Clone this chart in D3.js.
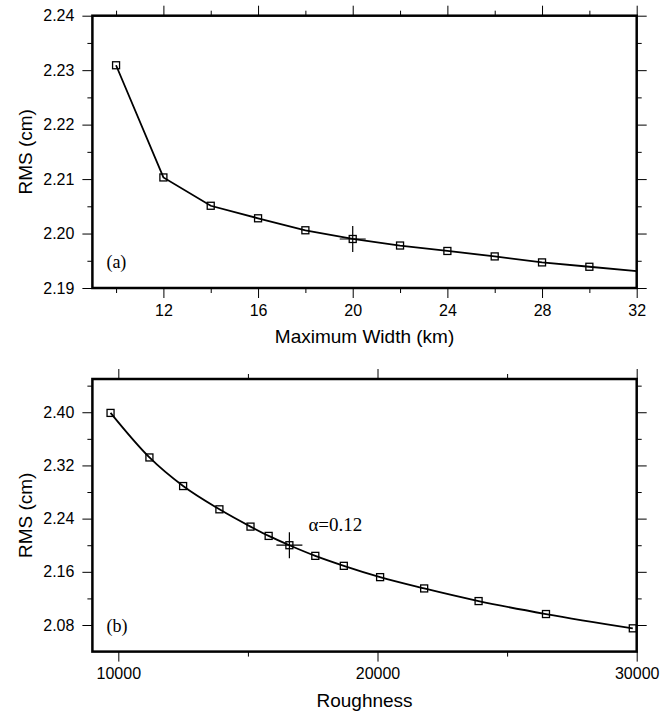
<!DOCTYPE html>
<html>
<head>
<meta charset="utf-8">
<script src="https://cdn.jsdelivr.net/npm/d3@7"></script>
<style>
  body { margin: 0; background: #fff; }
  svg { display: block; }
  .tick text { font-family: "Liberation Sans", Arial, sans-serif; font-size: 16px; fill: #000; }
  .tick line { stroke: #000; stroke-width: 1; }
</style>
</head>
<body>
<div id="chart"></div>
<script>
// panel (a): RMS vs maximum width; the line runs on to 32 km without a symbol there
const widthKm = [10, 12, 14, 16, 18, 20, 22, 24, 26, 28, 30, 32];
const rmsWidth = [2.2309, 2.2103, 2.2051, 2.2028, 2.2006, 2.1990, 2.1978, 2.1968, 2.1958, 2.1947, 2.1939, 2.1931];
const pickWidth = 20;

// panel (b): RMS vs roughness
const roughness = [9700, 11200, 12500, 13900, 15100, 15800, 16600, 17600, 18700, 20100, 21800, 23900, 26500, 29850];
const rmsRough = [2.399, 2.332, 2.289, 2.254, 2.228, 2.214, 2.200, 2.184, 2.169, 2.152, 2.135, 2.116, 2.0965, 2.075];
const pickRough = 16600;
const pickLabel = "α=0.12";

const ticksWidth = [12, 16, 20, 24, 28, 32];
const minorWidth = [10, 14, 18, 22, 26, 30];
const ticksRmsA = [2.19, 2.20, 2.21, 2.22, 2.23, 2.24];
const minorRmsA = [2.195, 2.205, 2.215, 2.225, 2.235];
const ticksRough = [10000, 20000, 30000];
const minorRough = [15000, 25000];
const ticksRmsB = [2.08, 2.16, 2.24, 2.32, 2.40];
const minorRmsB = [2.12, 2.20, 2.28, 2.36, 2.44];

const W = 672, H = 713;
const svg = d3.select("#chart").append("svg")
    .attr("width", W)
    .attr("height", H);

function panel(opts) {
    const x = d3.scaleLinear().domain(opts.xDomain).range([opts.left, opts.right]);
    const y = d3.scaleLinear().domain(opts.yDomain).range([opts.bottom, opts.top]);
    const g = svg.append("g");

    // major + minor ticks on all four sides, pointing outward
    const sides = [
        [d3.axisBottom, x, opts.xTicks, opts.xMinor, "translate(0," + opts.bottom + ")", opts.xFormat, 6.5],
        [d3.axisTop, x, opts.xTicks, opts.xMinor, "translate(0," + opts.top + ")", null, 6],
        [d3.axisLeft, y, opts.yTicks, opts.yMinor, "translate(" + opts.left + ",0)", d3.format(".2f"), 8],
        [d3.axisRight, y, opts.yTicks, opts.yMinor, "translate(" + opts.right + ",0)", null, 6]
    ];
    sides.forEach(([axis, sc, major, minor, tr, fmt, pad]) => {
        g.append("g").attr("transform", tr)
            .call(axis(sc).tickValues(minor).tickSize(5).tickFormat("").tickSizeOuter(0))
            .call(a => a.select(".domain").remove());
        g.append("g").attr("transform", tr)
            .call(axis(sc).tickValues(major).tickSize(10).tickPadding(pad)
                .tickFormat(fmt ? fmt : "").tickSizeOuter(0))
            .call(a => a.select(".domain").remove())
            .attr("font-family", null).attr("font-size", null);
    });

    g.append("rect")
        .attr("x", opts.left).attr("y", opts.top)
        .attr("width", opts.right - opts.left)
        .attr("height", opts.bottom - opts.top)
        .attr("fill", "none")
        .attr("stroke", "#000")
        .attr("stroke-width", 2.5);

    const pts = opts.xs.map((v, i) => ({ x: v, y: opts.ys[i] }));
    const line = d3.line().x(d => x(d.x)).y(d => y(d.y)).curve(opts.curve);
    g.append("path")
        .datum(pts)
        .attr("d", line)
        .attr("fill", "none")
        .attr("stroke", "#000")
        .attr("stroke-width", 1.8);

    const marked = opts.skipLast ? pts.slice(0, -1) : pts;
    g.selectAll(".sym")
        .data(marked)
        .enter()
        .append("rect")
        .attr("class", "sym")
        .attr("x", d => x(d.x) - 3.5)
        .attr("y", d => y(d.y) - 3.5)
        .attr("width", 7)
        .attr("height", 7)
        .attr("fill", "none")
        .attr("stroke", "#000")
        .attr("stroke-width", 1.3);

    // cross on the chosen value
    const pick = pts.find(d => d.x == opts.pick);
    const cx = x(pick.x), cy = y(pick.y);
    g.append("path")
        .attr("d", "M" + (cx - 13) + "," + cy + "H" + (cx + 13) + "M" + cx + "," + (cy - 13) + "V" + (cy + 13))
        .attr("stroke", "#000")
        .attr("stroke-width", 1.2);

    g.append("text")
        .attr("x", (opts.left + opts.right) / 2)
        .attr("y", opts.bottom + 55)
        .attr("text-anchor", "middle")
        .style("font-family", "Liberation Sans, Arial, sans-serif")
        .style("font-size", "19px")
        .text(opts.xTitle);

    g.append("text")
        .attr("transform", "translate(32," + (opts.top + opts.bottom) / 2 + ") rotate(-90)")
        .attr("text-anchor", "middle")
        .style("font-family", "Liberation Sans, Arial, sans-serif")
        .style("font-size", "19px")
        .text("RMS (cm)");

    g.append("text")
        .attr("x", opts.left + 14)
        .attr("y", opts.bottom - 20)
        .style("font-family", "Liberation Serif, Times New Roman, serif")
        .style("font-size", "18px")
        .text(opts.tag);

    return { g, x, y, cx, cy };
}

panel({
    left: 92.4, right: 636.7, top: 15.7, bottom: 288,
    xDomain: [9, 32], yDomain: [2.19, 2.24],
    xTicks: ticksWidth, xMinor: minorWidth, xFormat: d3.format("d"),
    yTicks: ticksRmsA, yMinor: minorRmsA,
    xs: widthKm, ys: rmsWidth, skipLast: true,
    curve: d3.curveLinear, pick: pickWidth,
    xTitle: "Maximum Width (km)", tag: "(a)"
});

const pb = panel({
    left: 92.4, right: 636.7, top: 379, bottom: 651.6,
    xDomain: [9000, 30000], yDomain: [2.04, 2.45],
    xTicks: ticksRough, xMinor: minorRough, xFormat: d3.format("d"),
    yTicks: ticksRmsB, yMinor: minorRmsB,
    xs: roughness, ys: rmsRough, skipLast: false,
    curve: d3.curveMonotoneX, pick: pickRough,
    xTitle: "Roughness", tag: "(b)"
});

pb.g.append("text")
    .attr("x", pb.cx + 19)
    .attr("y", pb.cy - 14)
    .style("font-family", "Liberation Serif, Times New Roman, serif")
    .style("font-size", "19px")
    .text(pickLabel);
</script>
</body>
</html>
